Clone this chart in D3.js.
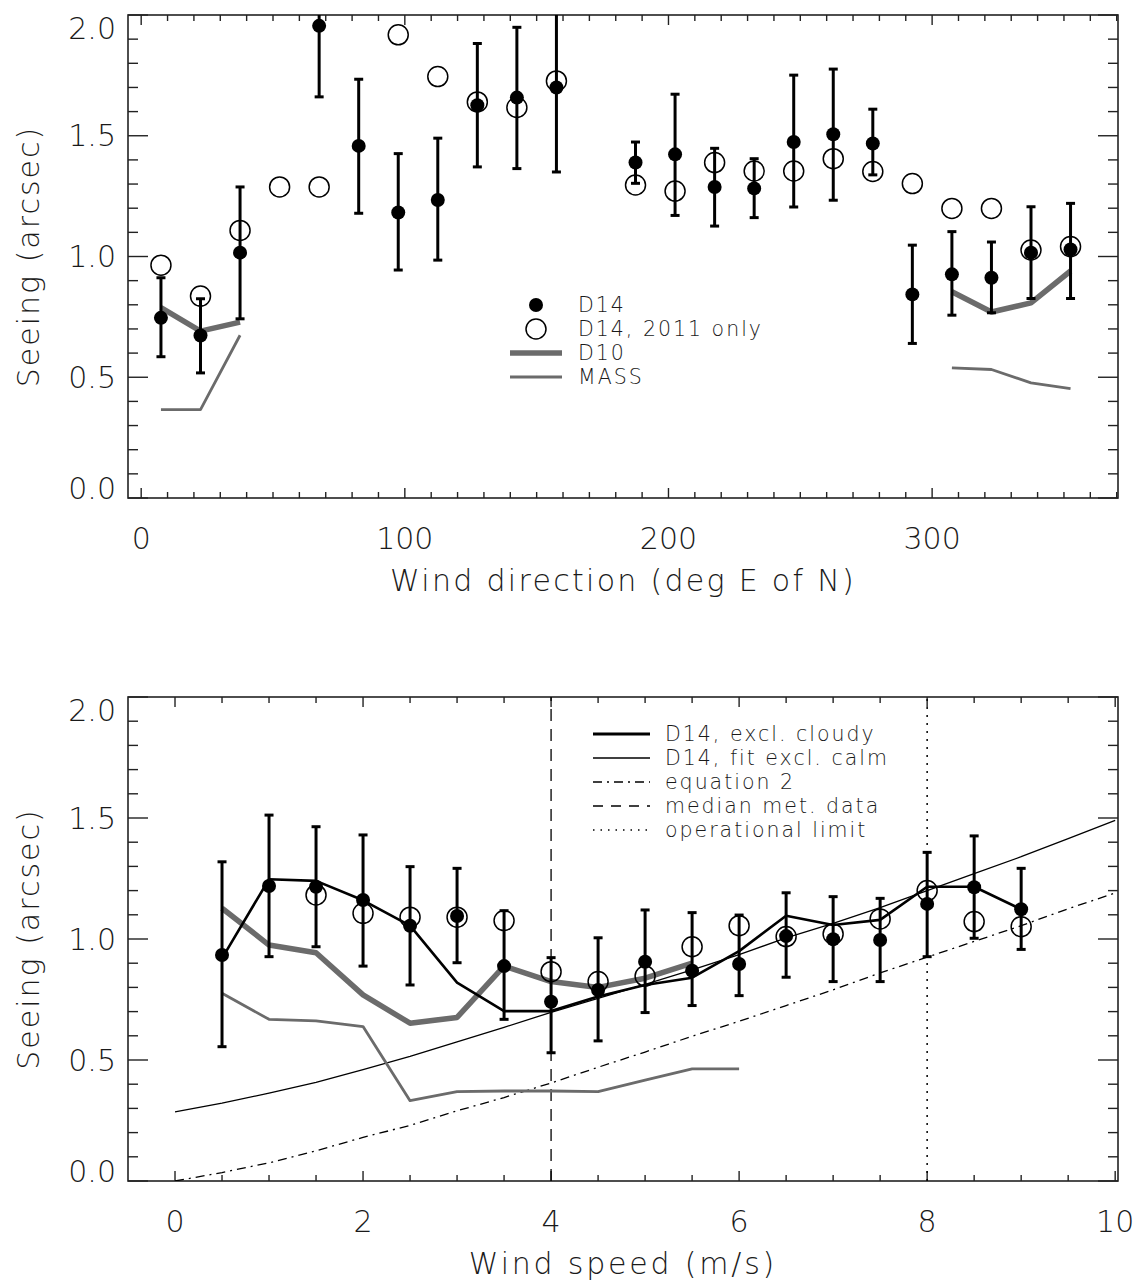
<!DOCTYPE html>
<html>
<head>
<meta charset="utf-8">
<style>
body { margin: 0; background: #fff; }
svg text { font-family: "DejaVu Sans", sans-serif; font-weight: 200; fill: #1a1a1a; }
.frame { fill: none; stroke: #222; stroke-width: 1.6; }
.tick { stroke: #222; stroke-width: 1.4; }
</style>
</head>
<body>
<svg id="chart" width="1138" height="1283"></svg>
<script src="https://cdn.jsdelivr.net/npm/d3@7"></script>
<script>

// ---- top panel: seeing vs wind direction ----
var dirBins = [7.5, 22.5, 37.5, 52.5, 67.5, 82.5, 97.5, 112.5, 127.5, 142.5, 157.5, 172.5,
               187.5, 202.5, 217.5, 232.5, 247.5, 262.5, 277.5, 292.5, 307.5, 322.5, 337.5, 352.5];
var dirD14    = [0.746, 0.673, 1.016, null, 1.955, 1.458, 1.182, 1.234, 1.626, 1.658, 1.700, null,
                 1.389, 1.423, 1.288, 1.282, 1.474, 1.506, 1.468, 0.843, 0.926, 0.912, 1.016, 1.029];
var dirD14Low = [0.585, 0.518, 0.742, null, 1.661, 1.179, 0.944, 0.985, 1.371, 1.364, 1.350, null,
                 1.303, 1.170, 1.126, 1.161, 1.205, 1.233, 1.338, 0.640, 0.757, 0.767, 0.826, 0.826];
var dirD14High = [0.912, 0.825, 1.288, null, 2.250, 1.734, 1.426, 1.490, 1.882, 1.949, 2.060, null,
                  1.474, 1.672, 1.448, 1.405, 1.751, 1.776, 1.610, 1.047, 1.103, 1.060, 1.206, 1.220];
var dir2011   = [0.964, 0.836, 1.108, 1.288, 1.288, null, 1.918, 1.745, 1.640, 1.617, 1.727, null,
                 1.296, 1.271, 1.389, 1.354, 1.354, 1.405, 1.352, 1.302, 1.199, 1.199, 1.027, 1.041];
var dirD10    = [0.788, 0.691, 0.728, null, null, null, null, null, null, null, null, null,
                 null, null, null, null, null, null, null, null, 0.854, 0.770, 0.808, 0.940];
var dirMASS   = [0.366, 0.366, 0.674, null, null, null, null, null, null, null, null, null,
                 null, null, null, null, null, null, null, null, 0.539, 0.532, 0.477, 0.453];

// ---- bottom panel: seeing vs wind speed ----
var spdBins = [0.5, 1.0, 1.5, 2.0, 2.5, 3.0, 3.5, 4.0, 4.5, 5.0, 5.5, 6.0, 6.5, 7.0, 7.5, 8.0, 8.5, 9.0];
var spdD14     = [0.934, 1.219, 1.216, 1.161, 1.055, 1.095, 0.888, 0.741, 0.789, 0.906, 0.869, 0.897,
                  1.012, 0.999, 0.996, 1.145, 1.214, 1.123];
var spdD14Low  = [0.555, 0.927, 0.968, 0.888, 0.810, 0.902, 0.668, 0.530, 0.579, 0.696, 0.725, 0.766,
                  0.842, 0.824, 0.824, 0.927, 1.003, 0.957];
var spdD14High = [1.319, 1.512, 1.464, 1.430, 1.299, 1.292, 1.117, 0.923, 1.005, 1.120, 1.109, 1.099,
                  1.191, 1.175, 1.168, 1.358, 1.426, 1.292];
var spd2011    = [null, null, 1.182, 1.106, 1.090, 1.090, 1.076, 0.865, 0.824, 0.847, 0.968, 1.055,
                  1.010, 1.021, 1.083, 1.200, 1.072, 1.051];
var spdCloudy  = [0.920, 1.247, 1.240, 1.160, 1.055, 0.820, 0.702, 0.702, 0.762, 0.810, 0.840, 0.950,
                  1.096, 1.058, 1.079, 1.216, 1.216, 1.123];
var spdD10     = [1.127, 0.975, 0.943, 0.769, 0.652, 0.676, 0.888, 0.824, 0.800, 0.838, 0.900, null,
                  null, null, null, null, null, null];
var spdMASS    = [0.776, 0.668, 0.662, 0.638, 0.332, 0.369, 0.372, 0.372, 0.369, 0.417, 0.463, 0.463,
                  null, null, null, null, null, null];

var curveSpd = [0, 0.5, 1.0, 1.5, 2.0, 2.5, 3.0, 3.5, 4.0, 4.5, 5.0, 5.5, 6.0, 6.5, 7.0, 7.5, 8.0, 8.5, 9.0, 9.5, 10.0];
var fitCalm  = [0.286, 0.322, 0.363, 0.408, 0.460, 0.515, 0.575, 0.635, 0.697, 0.755, 0.812, 0.872,
                0.935, 1.005, 1.065, 1.130, 1.200, 1.270, 1.340, 1.415, 1.490];
var equation2 = [0.000, 0.035, 0.075, 0.125, 0.180, 0.230, 0.290, 0.345, 0.405, 0.470, 0.533, 0.598,
                 0.660, 0.725, 0.790, 0.860, 0.925, 0.990, 1.055, 1.125, 1.190];

var medianMet = 4;
var operationalLimit = 8;

var topLegend = ["D14", "D14, 2011 only", "D10", "MASS"];
var bottomLegend = ["D14, excl. cloudy", "D14, fit excl. calm", "equation 2", "median met. data", "operational limit"];

var gray = "#6b6b6b";
var svg = d3.select("#chart");

function zip(xs, ys) {
  return xs.map(function(x, i) { return { x: x, y: ys[i] }; });
}

// draws frame, ticks on all four sides, tick labels and titles
function makePanel(opt) {
  var x = d3.scaleLinear().domain(opt.xDomain).range([opt.left, opt.right]);
  var y = d3.scaleLinear().domain([0, 2]).range([opt.bottom, opt.top]);
  var g = svg.append("g");

  g.append("rect").attr("class", "frame")
    .attr("x", opt.left).attr("y", opt.top)
    .attr("width", opt.right - opt.left).attr("height", opt.bottom - opt.top);

  // x ticks (bottom and top)
  d3.range(opt.xMinorStart, opt.xDomain[1] + 1e-6, opt.xMinor).forEach(function(v) {
    var isMajor = Math.abs(v / opt.xMajor - Math.round(v / opt.xMajor)) < 1e-6;
    var len = isMajor ? 10 : 6;
    g.append("line").attr("class", "tick")
      .attr("x1", x(v)).attr("x2", x(v)).attr("y1", opt.bottom).attr("y2", opt.bottom - len);
    g.append("line").attr("class", "tick")
      .attr("x1", x(v)).attr("x2", x(v)).attr("y1", opt.top).attr("y2", opt.top + len);
    if (isMajor) {
      g.append("text")
        .attr("x", x(v)).attr("y", opt.bottom + 40)
        .attr("text-anchor", "middle").attr("dominant-baseline", "central")
        .style("font-size", "30px")
        .text(d3.format("d")(v));
    }
  });

  // y ticks (left and right)
  d3.range(0, 2.0001, 0.1).forEach(function(v) {
    var isMajor = Math.abs(v * 2 - Math.round(v * 2)) < 1e-6;
    var len = isMajor ? 20 : 10;
    g.append("line").attr("class", "tick")
      .attr("x1", opt.left).attr("x2", opt.left + len).attr("y1", y(v)).attr("y2", y(v));
    g.append("line").attr("class", "tick")
      .attr("x1", opt.right).attr("x2", opt.right - len).attr("y1", y(v)).attr("y2", y(v));
    if (isMajor) {
      var dy = v > 1.99 ? 13 : (v < 0.01 ? -10 : 0);
      g.append("text")
        .attr("x", opt.left - 12).attr("y", y(v) + dy)
        .attr("text-anchor", "end").attr("dominant-baseline", "central")
        .style("font-size", "30px")
        .text(d3.format(".1f")(v));
    }
  });

  g.append("text")
    .attr("transform", "translate(28," + ((opt.top + opt.bottom) / 2) + ") rotate(-90)")
    .attr("text-anchor", "middle").attr("dominant-baseline", "central")
    .style("font-size", "30px").style("letter-spacing", "2px")
    .text("Seeing (arcsec)");

  g.append("text")
    .attr("x", (x(opt.xDomain[0]) + x(opt.xDomain[1])) / 2 + opt.titleShift)
    .attr("y", opt.bottom + 82)
    .attr("text-anchor", "middle").attr("dominant-baseline", "central")
    .style("font-size", "30px").style("letter-spacing", opt.titleSpacing)
    .text(opt.xTitle);

  svg.append("clipPath").attr("id", opt.id)
    .append("rect")
    .attr("x", opt.left).attr("y", opt.top)
    .attr("width", opt.right - opt.left).attr("height", opt.bottom - opt.top);

  var plot = svg.append("g").attr("clip-path", "url(#" + opt.id + ")");
  return { x: x, y: y, plot: plot };
}

function drawLine(p, xs, ys, stroke, width, dash) {
  var line = d3.line()
    .defined(function(d) { return d.y !== null; })
    .x(function(d) { return p.x(d.x); })
    .y(function(d) { return p.y(d.y); });
  p.plot.append("path")
    .datum(zip(xs, ys))
    .attr("d", line)
    .attr("fill", "none")
    .attr("stroke", stroke)
    .attr("stroke-width", width)
    .attr("stroke-linejoin", "round")
    .attr("stroke-dasharray", dash || null);
}

function drawErrorBars(p, xs, lows, highs) {
  var data = xs.map(function(x, i) { return { x: x, lo: lows[i], hi: highs[i] }; })
    .filter(function(d) { return d.lo !== null; });
  var bars = p.plot.selectAll(null).data(data).enter().append("g")
    .attr("stroke", "#000").attr("stroke-width", 3);
  bars.append("line")
    .attr("x1", function(d) { return p.x(d.x); }).attr("x2", function(d) { return p.x(d.x); })
    .attr("y1", function(d) { return p.y(d.lo); }).attr("y2", function(d) { return p.y(d.hi); });
  bars.append("line")
    .attr("x1", function(d) { return p.x(d.x) - 4.5; }).attr("x2", function(d) { return p.x(d.x) + 4.5; })
    .attr("y1", function(d) { return p.y(d.lo); }).attr("y2", function(d) { return p.y(d.lo); });
  bars.append("line")
    .attr("x1", function(d) { return p.x(d.x) - 4.5; }).attr("x2", function(d) { return p.x(d.x) + 4.5; })
    .attr("y1", function(d) { return p.y(d.hi); }).attr("y2", function(d) { return p.y(d.hi); });
}

function drawPoints(p, xs, ys, filled) {
  p.plot.selectAll(null)
    .data(zip(xs, ys).filter(function(d) { return d.y !== null; }))
    .enter().append("circle")
    .attr("cx", function(d) { return p.x(d.x); })
    .attr("cy", function(d) { return p.y(d.y); })
    .attr("r", filled ? 7 : 10)
    .attr("fill", filled ? "#000" : "none")
    .attr("stroke", "#000")
    .attr("stroke-width", filled ? 0 : 1.5);
}

function legendText(x, y, label) {
  svg.append("text")
    .attr("x", x).attr("y", y)
    .attr("dominant-baseline", "central")
    .style("font-size", "20.5px").style("letter-spacing", "2px")
    .text(label);
}

// ---------- top panel ----------
var dirPanel = makePanel({
  id: "clip-top", left: 128, right: 1118, top: 15, bottom: 498,
  xDomain: [-5, 370.5], xMinorStart: 0, xMinor: 10, xMajor: 100,
  titleShift: 0, titleSpacing: "2.3px", xTitle: "Wind direction (deg E of N)"
});

drawLine(dirPanel, dirBins, dirD10, gray, 5.5);
drawLine(dirPanel, dirBins, dirMASS, gray, 2.8);
drawErrorBars(dirPanel, dirBins, dirD14Low, dirD14High);
drawPoints(dirPanel, dirBins, dir2011, false);
drawPoints(dirPanel, dirBins, dirD14, true);

// top legend
var tlg = [305, 329, 353, 377];
svg.append("circle").attr("cx", 536).attr("cy", tlg[0]).attr("r", 7).attr("fill", "#000");
svg.append("circle").attr("cx", 536).attr("cy", tlg[1]).attr("r", 10)
  .attr("fill", "none").attr("stroke", "#000").attr("stroke-width", 1.5);
svg.append("line").attr("x1", 510).attr("x2", 562).attr("y1", tlg[2]).attr("y2", tlg[2])
  .attr("stroke", gray).attr("stroke-width", 5.5);
svg.append("line").attr("x1", 510).attr("x2", 562).attr("y1", tlg[3]).attr("y2", tlg[3])
  .attr("stroke", gray).attr("stroke-width", 2.8);
topLegend.forEach(function(t, i) { legendText(578, tlg[i], t); });

// ---------- bottom panel ----------
var spdPanel = makePanel({
  id: "clip-bot", left: 128, right: 1118, top: 697, bottom: 1181,
  xDomain: [-0.5, 10.03], xMinorStart: 0, xMinor: 0.5, xMajor: 2,
  titleShift: 0, titleSpacing: "2.8px", xTitle: "Wind speed (m/s)"
});

spdPanel.plot.append("line")
  .attr("x1", spdPanel.x(medianMet)).attr("x2", spdPanel.x(medianMet))
  .attr("y1", spdPanel.y(0)).attr("y2", spdPanel.y(2))
  .attr("stroke", "#000").attr("stroke-width", 1.3).attr("stroke-dasharray", "12,8");
spdPanel.plot.append("line")
  .attr("x1", spdPanel.x(operationalLimit)).attr("x2", spdPanel.x(operationalLimit))
  .attr("y1", spdPanel.y(0)).attr("y2", spdPanel.y(2))
  .attr("stroke", "#000").attr("stroke-width", 1.5).attr("stroke-dasharray", "2,6");

drawLine(spdPanel, curveSpd, equation2, "#000", 1.3, "9,5,2,5");
drawLine(spdPanel, curveSpd, fitCalm, "#000", 1.3);
drawLine(spdPanel, spdBins, spdMASS, gray, 2.8);
drawLine(spdPanel, spdBins, spdD10, gray, 5.5);
drawLine(spdPanel, spdBins, spdCloudy, "#000", 2.6);
drawErrorBars(spdPanel, spdBins, spdD14Low, spdD14High);
drawPoints(spdPanel, spdBins, spd2011, false);
drawPoints(spdPanel, spdBins, spdD14, true);

// bottom legend
var blg = [734, 758, 782, 806, 830];
var blgStyle = [
  { w: 2.8, dash: null },
  { w: 1.4, dash: null },
  { w: 1.3, dash: "9,5,2,5" },
  { w: 1.3, dash: "10,8" },
  { w: 1.5, dash: "1.5,6" }
];
blgStyle.forEach(function(s, i) {
  svg.append("line").attr("x1", 593).attr("x2", 650).attr("y1", blg[i]).attr("y2", blg[i])
    .attr("stroke", "#000").attr("stroke-width", s.w).attr("stroke-dasharray", s.dash);
  legendText(665, blg[i], bottomLegend[i]);
});

</script>
</body>
</html>
